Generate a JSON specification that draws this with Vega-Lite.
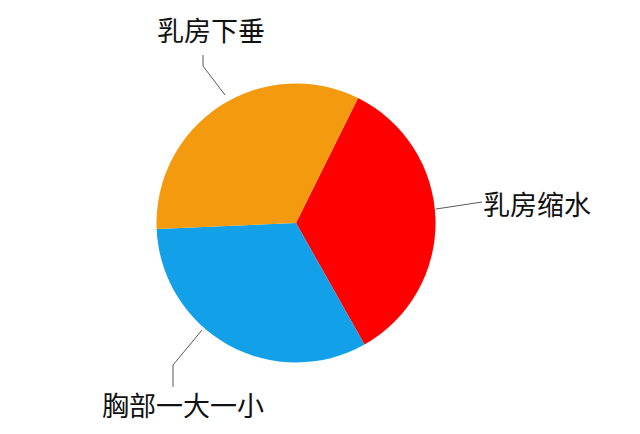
{
  "$schema": "https://vega.github.io/schema/vega-lite/v6.json",
  "width": 592,
  "height": 422,
  "autosize": {"type": "none"},
  "padding": {"left": 0, "top": 12, "right": 48, "bottom": 0},
  "background": "white",
  "config": {"view": {"stroke": null}},
  "datasets": {
    "slices": [
      {"name": "乳房缩水", "deg": 124.2, "order": 1},
      {"name": "胸部一大一小", "deg": 116.9, "order": 2},
      {"name": "乳房下垂", "deg": 118.9, "order": 3}
    ],
    "leaders": [
      {"name": "乳房下垂", "i": 1, "x": -71, "y": 128},
      {"name": "乳房下垂", "i": 2, "x": -93, "y": 157},
      {"name": "乳房下垂", "i": 3, "x": -93, "y": 168},
      {"name": "乳房缩水", "i": 1, "x": 140, "y": 14},
      {"name": "乳房缩水", "i": 2, "x": 186, "y": 21},
      {"name": "胸部一大一小", "i": 1, "x": -94, "y": -107},
      {"name": "胸部一大一小", "i": 2, "x": -123, "y": -142},
      {"name": "胸部一大一小", "i": 3, "x": -123, "y": -164}
    ],
    "labels": [
      {"name": "乳房下垂", "x": -85, "y": 190},
      {"name": "乳房缩水", "x": 241, "y": 16},
      {"name": "胸部一大一小", "x": -113, "y": -185}
    ]
  },
  "layer": [
    {
      "data": {"name": "slices"},
      "mark": {"type": "arc", "outerRadius": 139.5},
      "encoding": {
        "theta": {
          "field": "deg",
          "type": "quantitative",
          "stack": true,
          "scale": {"range": [0.4608, 6.7440]}
        },
        "order": {"field": "order", "type": "quantitative"},
        "color": {
          "field": "name",
          "type": "nominal",
          "scale": {
            "domain": ["乳房缩水", "胸部一大一小", "乳房下垂"],
            "range": ["#fe0000", "#12a1e9", "#f39a0f"]
          },
          "legend": null
        }
      }
    },
    {
      "data": {"name": "leaders"},
      "mark": {"type": "line", "color": "#5a5a5a", "strokeWidth": 1},
      "encoding": {
        "x": {"field": "x", "type": "quantitative", "scale": {"domain": [-296, 296]}, "axis": null},
        "y": {"field": "y", "type": "quantitative", "scale": {"domain": [-211, 211]}, "axis": null},
        "detail": {"field": "name", "type": "nominal"},
        "order": {"field": "i", "type": "quantitative"}
      }
    },
    {
      "data": {"name": "labels"},
      "mark": {
        "type": "text",
        "font": "Noto Sans CJK SC",
        "fontSize": 27,
        "color": "#111111",
        "align": "center",
        "baseline": "middle"
      },
      "encoding": {
        "x": {"field": "x", "type": "quantitative", "scale": {"domain": [-296, 296]}, "axis": null},
        "y": {"field": "y", "type": "quantitative", "scale": {"domain": [-211, 211]}, "axis": null},
        "text": {"field": "name"}
      }
    }
  ]
}
